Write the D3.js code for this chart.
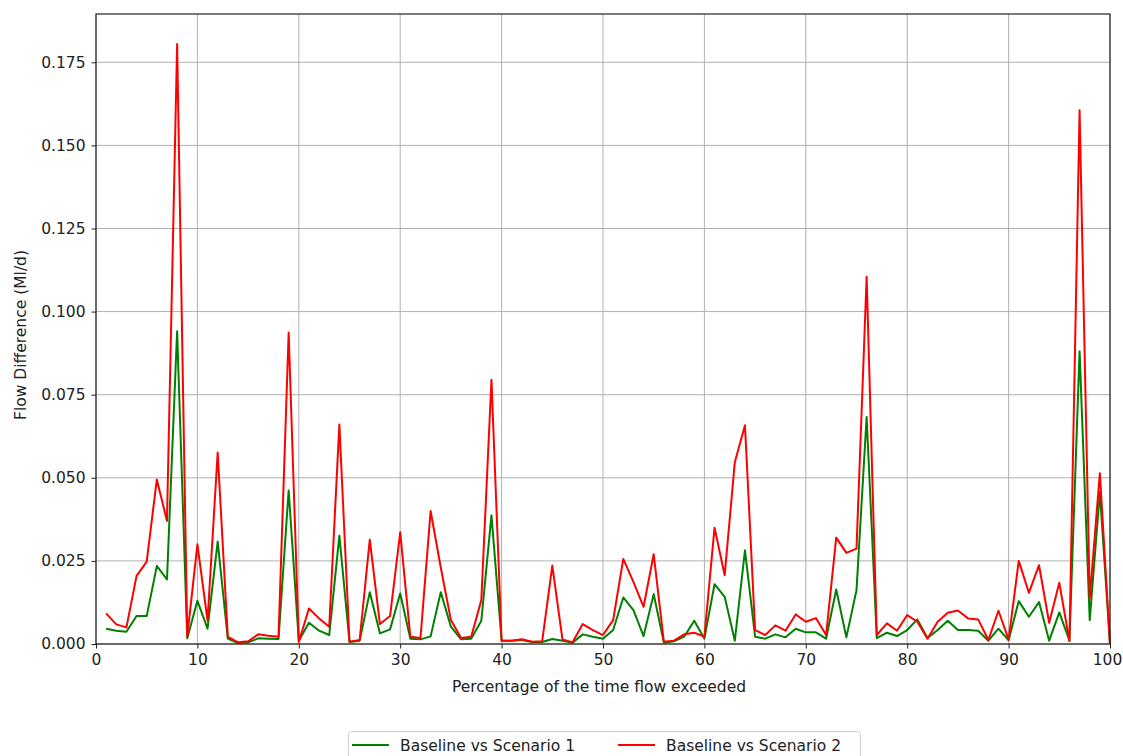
<!DOCTYPE html>
<html>
<head>
<meta charset="utf-8">
<script src="https://cdn.jsdelivr.net/npm/d3@7"></script>
<style>
  html, body { margin: 0; padding: 0; background: #fff; }
  svg { display: block; font-family: "DejaVu Sans", sans-serif; }
</style>
</head>
<body>
<svg id="chart" width="1123" height="756"></svg>
<script>
// Percentage of time the flow is exceeded (1..100)
const percent = d3.range(1, 101);

// Flow difference, Baseline vs Scenario 1 (Ml/d)
const scenario1 = [
  0.0046, 0.0040, 0.0037, 0.0084, 0.0084, 0.0235, 0.0194, 0.0941, 0.0017, 0.0130,
  0.0046, 0.0308, 0.0016, 0.0003, 0.0005, 0.0017, 0.0016, 0.0015, 0.0462, 0.0010,
  0.0064, 0.0040, 0.0027, 0.0326, 0.0006, 0.0010, 0.0156, 0.0032, 0.0044, 0.0152,
  0.0016, 0.0014, 0.0023, 0.0156, 0.0052, 0.0014, 0.0016, 0.0070, 0.0387, 0.0010,
  0.0010, 0.0012, 0.0006, 0.0006, 0.0015, 0.0010, 0.0004, 0.0029, 0.0022, 0.0016,
  0.0042, 0.0140, 0.0102, 0.0024, 0.0150, 0.0004, 0.0008, 0.0022, 0.0070, 0.0016,
  0.0180, 0.0142, 0.0010, 0.0282, 0.0022, 0.0016, 0.0029, 0.0020, 0.0046, 0.0035,
  0.0035, 0.0016, 0.0164, 0.0020, 0.0162, 0.0683, 0.0018, 0.0034, 0.0024, 0.0042,
  0.0074, 0.0018, 0.0042, 0.0070, 0.0042, 0.0042, 0.0040, 0.0010, 0.0046, 0.0011,
  0.0129, 0.0082, 0.0126, 0.0010, 0.0095, 0.0010, 0.0881, 0.0072, 0.0457, 0.0000
];

// Flow difference, Baseline vs Scenario 2 (Ml/d)
const scenario2 = [
  0.0092, 0.0059, 0.0050, 0.0205, 0.0248, 0.0495, 0.0370, 0.1805, 0.0022, 0.0300,
  0.0070, 0.0576, 0.0022, 0.0005, 0.0008, 0.0029, 0.0025, 0.0022, 0.0937, 0.0006,
  0.0107, 0.0077, 0.0052, 0.0660, 0.0007, 0.0012, 0.0314, 0.0060, 0.0084, 0.0336,
  0.0022, 0.0018, 0.0400, 0.0230, 0.0072, 0.0018, 0.0022, 0.0132, 0.0795, 0.0010,
  0.0010, 0.0014, 0.0007, 0.0008, 0.0236, 0.0014, 0.0005, 0.0060, 0.0042, 0.0027,
  0.0072, 0.0256, 0.0187, 0.0112, 0.0270, 0.0007, 0.0010, 0.0029, 0.0034, 0.0022,
  0.0350, 0.0207, 0.0547, 0.0658, 0.0042, 0.0027, 0.0056, 0.0040, 0.0089, 0.0067,
  0.0078, 0.0027, 0.0320, 0.0274, 0.0287, 0.1105, 0.0027, 0.0062, 0.0040, 0.0087,
  0.0067, 0.0016, 0.0067, 0.0094, 0.0101, 0.0077, 0.0074, 0.0012, 0.0100, 0.0013,
  0.0250, 0.0154, 0.0237, 0.0064, 0.0184, 0.0009, 0.1606, 0.0137, 0.0514, 0.0000
];

const xTicks = [0, 10, 20, 30, 40, 50, 60, 70, 80, 90, 100];
const yTicks = [0, 0.025, 0.05, 0.075, 0.1, 0.125, 0.15, 0.175];

const seriesList = [
  { name: "Baseline vs Scenario 1", values: scenario1, color: "green" },
  { name: "Baseline vs Scenario 2", values: scenario2, color: "red" }
];

const FONT = "15.5px";
const svg = d3.select("#chart");
const margin = { left: 96, right: 13, top: 14, bottom: 112 };
const W = 1123, H = 756;
const innerW = W - margin.left - margin.right;
const innerH = H - margin.top - margin.bottom;

const yMax = d3.max([...scenario1, ...scenario2]) * 1.05;
const x = d3.scaleLinear().domain([0, 100]).range([margin.left, margin.left + innerW]);
const y = d3.scaleLinear().domain([0, yMax]).range([margin.top + innerH, margin.top]);

// grid
const grid = svg.append("g");
grid.selectAll("line.vx").data(xTicks).join("line")
  .attr("x1", d => x(d)).attr("x2", d => x(d))
  .attr("y1", margin.top).attr("y2", margin.top + innerH)
  .attr("stroke", "#b0b0b0").attr("stroke-width", 1);
grid.selectAll("line.hy").data(yTicks).join("line")
  .attr("x1", margin.left).attr("x2", margin.left + innerW)
  .attr("y1", d => y(d)).attr("y2", d => y(d))
  .attr("stroke", "#b0b0b0").attr("stroke-width", 1);

// lines
const line = d3.line().x((d, i) => x(percent[i])).y(d => y(d));
svg.append("g").selectAll("path").data(seriesList).join("path")
  .attr("d", s => line(s.values))
  .attr("fill", "none")
  .attr("stroke", s => s.color)
  .attr("stroke-width", 2)
  .attr("stroke-linejoin", "round");

// axes
const xAxis = d3.axisBottom(x).tickValues(xTicks).tickFormat(d3.format("d")).tickSize(4.5).tickPadding(5);
const yAxis = d3.axisLeft(y).tickValues(yTicks).tickFormat(d3.format(".3f")).tickSize(4.5).tickPadding(6);

const gx = svg.append("g").attr("transform", `translate(0,${margin.top + innerH})`).call(xAxis);
const gy = svg.append("g").attr("transform", `translate(${margin.left},0)`).call(yAxis);
[gx, gy].forEach(g => {
  g.select(".domain").remove();
  g.selectAll(".tick line").attr("stroke", "#222").attr("stroke-width", 1);
  g.selectAll(".tick text").attr("fill", "#222").style("font-size", FONT)
    .style("font-family", "'DejaVu Sans', sans-serif");
});
// keep the last x label inside the canvas
gx.selectAll(".tick text").filter(d => d === 100).attr("dx", -3);

// frame
svg.append("rect")
  .attr("x", margin.left).attr("y", margin.top)
  .attr("width", innerW).attr("height", innerH)
  .attr("fill", "none").attr("stroke", "#222").attr("stroke-width", 1.2);

// axis titles
svg.append("text")
  .attr("x", margin.left + innerW / 2 - 4).attr("y", 692)
  .attr("text-anchor", "middle").attr("fill", "#222")
  .style("font-size", FONT)
  .text("Percentage of the time flow exceeded");
svg.append("text")
  .attr("transform", `translate(26,${margin.top + innerH / 2 + 6}) rotate(-90)`)
  .attr("text-anchor", "middle").attr("fill", "#222")
  .style("font-size", FONT)
  .text("Flow Difference (Ml/d)");

// legend
const legend = svg.append("g");
legend.append("rect")
  .attr("x", 348.5).attr("y", 731.5).attr("width", 512).attr("height", 34)
  .attr("rx", 3).attr("fill", "#fff").attr("stroke", "#d0d0d0").attr("stroke-width", 1);
const items = legend.selectAll("g.item").data(seriesList).join("g")
  .attr("transform", (d, i) => `translate(${i === 0 ? 352 : 618},745)`);
items.append("line").attr("x1", 0).attr("x2", 37).attr("y1", 0).attr("y2", 0)
  .attr("stroke", d => d.color).attr("stroke-width", 2);
items.append("text").attr("x", 48).attr("y", 6)
  .attr("fill", "#222").style("font-size", FONT)
  .text(d => d.name);
</script>
</body>
</html>
